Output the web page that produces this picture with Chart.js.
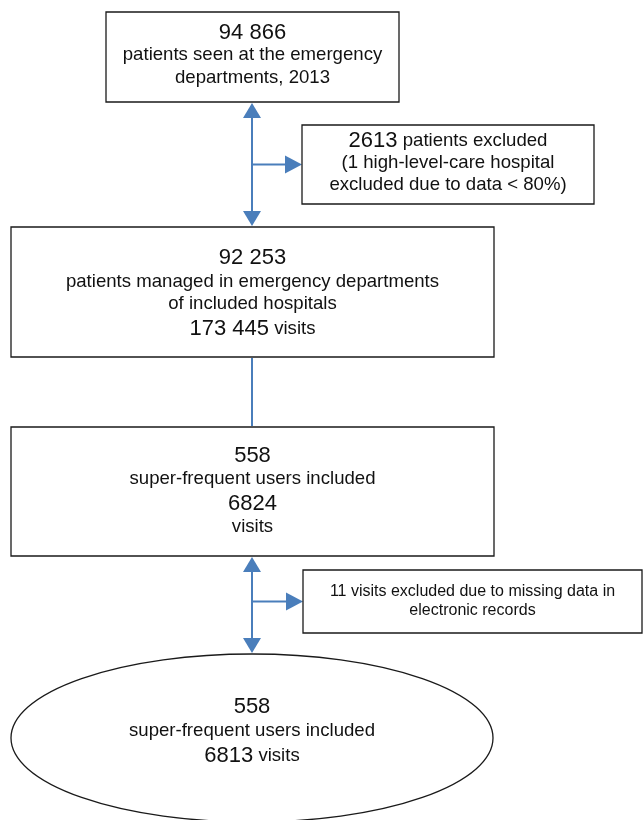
<!DOCTYPE html>
<html>
<head>
<meta charset="utf-8">
<script src="https://cdn.jsdelivr.net/npm/chart.js@4"></script>
<style>
html,body{margin:0;padding:0;background:#fff;}
#wrap{width:643px;height:820px;}
</style>
</head>
<body>
<div id="wrap"><canvas id="c" width="643" height="820"></canvas></div>
<script>
// ---- data: flow nodes and their texts ----
const nodeIds = ['seen', 'excludedA', 'managed', 'superFrequent', 'excludedB', 'final'];
const nodeCounts = ['94 866', '2613', '92 253', '558', '11', '558'];
const nodeText = [
  [[['94 866', 'big']], [['patients seen at the emergency', 'n']], [['departments, 2013', 'n']]],
  [[['2613', 'big'], [' patients excluded', 'n']], [['(1 high-level-care hospital', 'n']], [['excluded due to data < 80%)', 'n']]],
  [[['92 253', 'big']], [['patients managed in emergency departments', 'n']], [['of included hospitals', 'n']], [['173 445', 'big'], [' visits', 'n']]],
  [[['558', 'big']], [['super-frequent users included', 'n']], [['6824', 'big']], [['visits', 'n']]],
  [[['11 visits excluded due to missing data in', 's']], [['electronic records', 's']]],
  [[['558', 'big']], [['super-frequent users included', 'n']], [['6813', 'big'], [' visits', 'n']]]
];
const links = [
  ['seen', 'managed', 'double'],
  ['managed', 'superFrequent', 'plain'],
  ['superFrequent', 'final', 'double']
];
const branches = [
  ['seen', 'managed', 'excludedA'],
  ['superFrequent', 'final', 'excludedB']
];

// ---- layout (positions / sizes in axis units) ----
const layout = {
  seen:          {shape: 'rect', x0: 106, x1: 399, y0: 12,  y1: 102, lines: [33, 55, 78]},
  excludedA:     {shape: 'rect', x0: 302, x1: 594, y0: 125, y1: 204, lines: [141, 163, 185]},
  managed:       {shape: 'rect', x0: 11,  x1: 494, y0: 227, y1: 357, lines: [258, 282, 304, 329]},
  superFrequent: {shape: 'rect', x0: 11,  x1: 494, y0: 427, y1: 556, lines: [456, 479, 504, 527]},
  excludedB:     {shape: 'rect', x0: 303, x1: 642, y0: 570, y1: 633, lines: [592, 611]},
  final:         {shape: 'ellipse', cx: 252, cy: 738, rx: 241, ry: 84, lines: [707, 731, 756]}
};
const axisX = 252;
const fonts = {
  big: '22px "Liberation Sans", Arial, sans-serif',
  n: '18.6px "Liberation Sans", Arial, sans-serif',
  s: '16px "Liberation Sans", Arial, sans-serif'
};
const arrowColor = '#4a7ebb';

function topOf(id) { const l = layout[id]; return l.shape === 'rect' ? l.y0 : l.cy - l.ry; }
function bottomOf(id) { const l = layout[id]; return l.shape === 'rect' ? l.y1 : l.cy + l.ry; }

const centers = nodeIds.map(id => {
  const l = layout[id];
  return l.shape === 'rect' ? {x: (l.x0 + l.x1) / 2, y: (l.y0 + l.y1) / 2} : {x: l.cx, y: l.cy};
});

function head(ctx, x, y, dir, len, hw) {
  ctx.beginPath();
  if (dir === 'up') { ctx.moveTo(x, y); ctx.lineTo(x - hw, y + len); ctx.lineTo(x + hw, y + len); }
  else if (dir === 'down') { ctx.moveTo(x, y); ctx.lineTo(x - hw, y - len); ctx.lineTo(x + hw, y - len); }
  else { ctx.moveTo(x, y); ctx.lineTo(x - len, y - hw); ctx.lineTo(x - len, y + hw); }
  ctx.closePath();
  ctx.fill();
}

const flowPlugin = {
  id: 'flow',
  afterDatasetsDraw(chart) {
    const ctx = chart.ctx;
    const sx = chart.scales.x, sy = chart.scales.y;
    const X = v => sx.getPixelForValue(v);
    const Y = v => sy.getPixelForValue(v);
    ctx.save();
    // connectors
    ctx.strokeStyle = arrowColor;
    ctx.fillStyle = arrowColor;
    ctx.lineWidth = 2;
    links.forEach(([a, b, kind]) => {
      const y0 = Y(bottomOf(a) + 1), y1 = Y(topOf(b) - 1);
      const x = X(axisX);
      const inset = kind === 'double' ? 10 : 0;
      ctx.beginPath();
      ctx.moveTo(x, y0 + inset); ctx.lineTo(x, y1 - inset);
      ctx.stroke();
      if (kind === 'double') {
        head(ctx, x, y0, 'up', 15, 9);
        head(ctx, x, y1, 'down', 15, 9);
      }
    });
    branches.forEach(([a, b, target]) => {
      const lt = layout[target];
      const yMid = Y((lt.y0 + lt.y1) / 2);
      const x0 = X(axisX), x1 = X(lt.x0);
      ctx.beginPath();
      ctx.moveTo(x0, yMid); ctx.lineTo(x1 - 12, yMid);
      ctx.stroke();
      head(ctx, x1, yMid, 'right', 17, 9);
    });
    // shapes
    ctx.strokeStyle = '#1a1a1a';
    ctx.lineWidth = 1.3;
    ctx.fillStyle = '#ffffff';
    nodeIds.forEach(id => {
      const l = layout[id];
      ctx.beginPath();
      if (l.shape === 'rect') {
        ctx.rect(X(l.x0), Y(l.y0), X(l.x1) - X(l.x0), Y(l.y1) - Y(l.y0));
      } else {
        ctx.ellipse(X(l.cx), Y(l.cy), Math.abs(X(l.cx + l.rx) - X(l.cx)), Math.abs(Y(l.cy + l.ry) - Y(l.cy)), 0, 0, Math.PI * 2);
      }
      ctx.fill();
      ctx.stroke();
    });
    // texts
    ctx.fillStyle = '#111111';
    ctx.textBaseline = 'middle';
    ctx.textAlign = 'left';
    nodeIds.forEach((id, i) => {
      const l = layout[id];
      const cx = X(centers[i].x);
      nodeText[i].forEach((runs, j) => {
        let w = 0;
        const widths = runs.map(([t, f]) => { ctx.font = fonts[f]; const m = ctx.measureText(t).width; w += m; return m; });
        let x = cx - w / 2;
        const y = Y(l.lines[j]);
        runs.forEach(([t, f], k) => { ctx.font = fonts[f]; ctx.fillText(t, x, y); x += widths[k]; });
      });
    });
    ctx.restore();
  }
};

new Chart(document.getElementById('c'), {
  type: 'scatter',
  data: {
    datasets: [{
      label: 'nodes',
      data: centers,
      pointRadius: 0,
      pointHoverRadius: 0
    }]
  },
  options: {
    responsive: false,
    animation: false,
    events: [],
    layout: {padding: 0},
    plugins: {legend: {display: false}, tooltip: {enabled: false}},
    scales: {
      x: {type: 'linear', min: 0, max: 643, display: false},
      y: {type: 'linear', min: 0, max: 820, reverse: true, display: false}
    }
  },
  plugins: [flowPlugin]
});
</script>
</body>
</html>
